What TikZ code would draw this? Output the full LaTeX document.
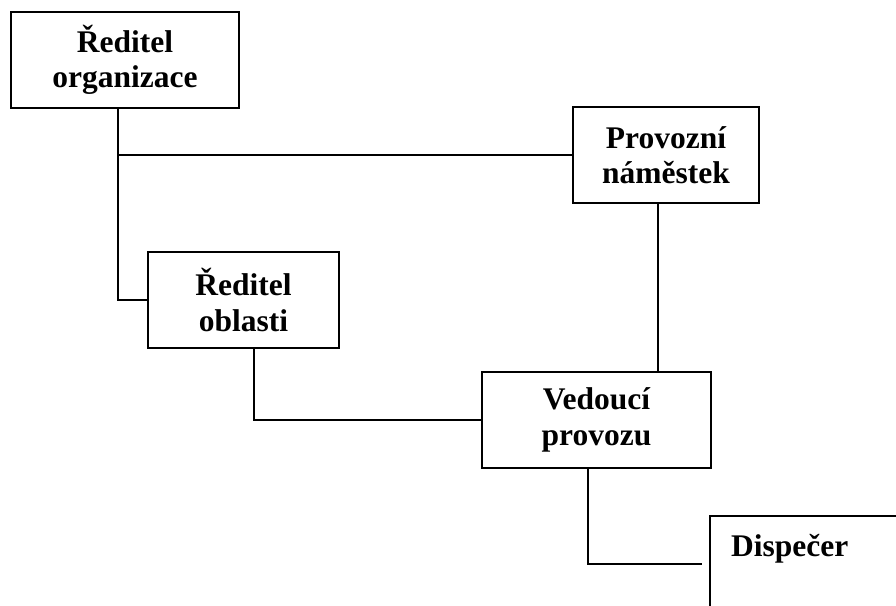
\documentclass[tikz,border=0pt]{standalone}
\usepackage{fontspec}
\setmainfont{Liberation Serif}
\begin{document}
\begin{tikzpicture}[x=1pt,y=-1pt,
  box/.style={draw=black,line width=1.6pt,minimum height=96pt,inner sep=0pt,align=center,
    font=\fontsize{31.5}{35.5}\selectfont\bfseries},
  conn/.style={draw=black,line width=1.6pt}]
\useasboundingbox (0,0) rectangle (896,605);
\clip (0,0) rectangle (896,605);
\node[box,minimum width=228pt] (org) at (125,60) {Ředitel\\organizace};
\node[box,minimum width=186pt] (prov) at (666,155) {Provozní\\náměstek};
\node[box,minimum width=191pt] (obl) at (243.5,300) {Ředitel\\oblasti};
\node[box,minimum width=229pt] (ved) at (596.5,420) {Vedoucí\\provozu};
\node[box,minimum width=229pt] (dis) at (824.5,564) {};
\node[font=\fontsize{31.5}{35.5}\selectfont\bfseries,anchor=base west,inner sep=0pt] (distext) at (731,556) {Dispečer};
\coordinate (xa) at (118,0);
\coordinate (xb) at (658,0);
\coordinate (xc) at (254,0);
\coordinate (xd) at (588,0);
\coordinate (j1) at (118,155);
\draw[conn] (org.south -| xa) |- (obl.west);
\draw[conn] (j1) -- (prov.west);
\draw[conn] (prov.south -| xb) -- (ved.north -| xb);
\draw[conn] (obl.south -| xc) |- (ved.west);
\draw[conn,shorten >=7pt] (ved.south -| xd) |- (dis.west);
\end{tikzpicture}
\end{document}
